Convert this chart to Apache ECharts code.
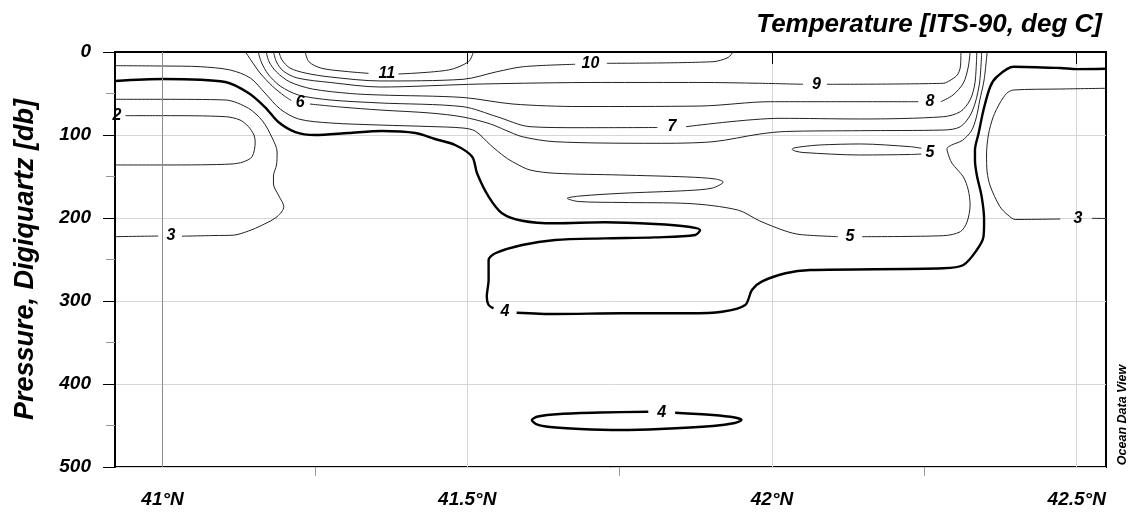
<!DOCTYPE html>
<html><head><meta charset="utf-8">
<script src="https://cdn.jsdelivr.net/npm/echarts@6/dist/echarts.min.js"></script>
<style>html,body{margin:0;padding:0;background:#fff}#c{width:1133px;height:512px}</style>
</head><body><div id="c"></div>
<script>
// ---- axis values ----
const latTicks = [41, 41.5, 42, 42.5];
const latMinorTicks = [41.25, 41.75, 42.25];
const latRange = [40.922, 42.548];
const pressureRange = [0, 500];
const stationLat = [41];

// ---- contour lines: [latitude °N, pressure db]; null = gap for a label ----
const c11 = [[41.234,0],[41.240,11.7],[41.261,19.6],[41.305,23.7],[41.338,25.7],null,[41.387,26.5],[41.469,21.7],[41.502,11.7],[41.510,0]];
const c10 = [[41.191,0],[41.196,9.6],[41.209,19.3],[41.234,25.3],[41.275,30.1],[41.357,34.9],[41.493,32.9],[41.549,23.7],[41.592,17.7],[41.677,14.8],null,[41.729,13.6],[41.903,11.7],[41.928,6.6],[41.936,0]];
const c9 = [[41.182,0],[41.187,12],[41.198,22.9],[41.221,31.3],[41.275,36.7],[41.357,42.2],[41.521,38.6],[41.718,36.7],[41.882,36.7],[41.980,37.7],[42.051,38.9],null,[42.090,38.9],[42.281,37.7],[42.292,34.3],[42.304,27.7],[42.309,18.1],[42.310,0]];
const c8 = [[41.170,0],[41.175,12],[41.187,24.1],[41.209,36.1],[41.246,44.6],[41.308,50],[41.357,51.8],[41.493,54.8],[41.575,62.7],[41.685,65.7],[41.882,65.1],[41.997,59.9],[42.240,59.9],null,[42.277,59.9],[42.297,51.8],[42.314,37.3],[42.322,18.1],[42.325,0]];
const c7 = [[41.157,0],[41.162,12],[41.173,26.5],[41.193,41],[41.223,51.8],[41.275,57.8],[41.357,61.4],[41.493,65.9],[41.549,78],[41.603,90],[41.685,91.2],[41.812,91],null,[41.859,90],[42.013,79.9],[42.145,80.7],[42.281,78],[42.309,71.9],[42.325,57.8],[42.333,37.3],[42.336,0]];
const c6 = [[41.136,0],[41.146,10.8],[41.160,25.3],[41.180,41],[41.200,53],[41.211,58.4],null,[41.242,62.7],[41.292,66.3],[41.357,69.9],[41.439,73.5],[41.493,78.3],[41.538,86.7],[41.562,94],[41.590,102],[41.644,108.1],[41.808,110],[41.903,108.1],[41.980,98.8],[42.022,95.8],[42.145,94.8],[42.281,94],[42.309,90],[42.328,72.3],[42.340,39.8],[42.344,0]];
const c5 = [[40.922,16.5],[41.001,16.9],[41.062,17.7],[41.111,21.7],[41.144,31.3],[41.168,49.4],[41.193,68.7],[41.223,80.7],[41.275,85.5],[41.357,88],[41.439,89.8],[41.493,91.6],[41.513,95.2],[41.538,112],[41.562,126.5],[41.579,134.1],[41.603,142.2],[41.644,146.1],[41.751,148.2],[41.862,150.6],[41.907,153],[41.920,156.6],[41.902,163.9],[41.862,166.9],[41.754,170.2],[41.685,173.5],[41.664,176.3],[41.682,180.1],[41.754,181.3],[41.862,182.5],[41.944,190.4],[41.980,203.6],[42.022,215.7],[42.046,219.9],[42.108,222.5],null,[42.148,222.5],[42.281,221.3],[42.309,216.5],[42.320,204.8],[42.325,184.3],[42.322,166.3],[42.314,150.6],[42.295,133.7],[42.288,120.5],[42.287,116.3],[42.295,112],[42.312,106.6],[42.327,95.2],[42.335,79.5],[42.341,57.8],[42.348,33.7],[42.353,0]];
const c5b = [[42.245,116],[42.227,114.1],[42.145,110.8],[42.079,112],[42.051,113.9],[42.036,115.7],[42.033,117.2],[42.038,119.3],[42.051,121.1],[42.145,124.1],[42.227,123.5],[42.245,122.9]];
const c4 = [[40.922,34.9],[41.001,32.5],[41.103,36.1],[41.141,49.4],[41.168,66.3],[41.190,84.3],[41.218,96.4],[41.250,100],[41.305,97.6],[41.360,95.2],[41.415,97.6],[41.447,104.8],[41.480,112],[41.508,126.1],[41.516,146.1],[41.535,174.3],[41.557,194.3],[41.590,203.3],[41.644,206.4],[41.726,205.2],[41.808,207.2],[41.863,210.5],[41.882,214.5],[41.874,220.5],[41.808,223.3],[41.726,224.5],[41.644,226.5],[41.590,232.5],[41.546,242.5],[41.535,250.6],[41.535,274.7],[41.532,294.8],[41.535,304.8],[41.543,308.8],null,[41.581,314.1],[41.644,315.7],[41.754,314.8],[41.863,314.8],[41.918,312.9],[41.956,304.8],[41.967,286.7],[41.983,276.7],[42.022,266.6],[42.063,262.7],[42.281,260.6],[42.314,256.6],[42.336,238.6],[42.347,222.5],[42.348,202.4],[42.344,174.3],[42.336,148.2],[42.333,130.1],[42.333,118.1],[42.339,98],[42.347,69.9],[42.358,41.8],[42.369,29.8],[42.396,17.7],[42.473,19.3],[42.500,20.6],[42.548,20.2]];
const c4b = [[41.841,434.6],[41.903,437.3],[41.939,440.4],[41.950,443.4],[41.939,447],[41.903,450.6],[41.816,454.2],[41.751,455.4],[41.685,454.2],[41.636,451.8],[41.613,448.2],[41.606,443.4],[41.616,439.2],[41.652,436.1],[41.718,434.3],[41.797,433.4]];
const c3a = [[40.922,222.5],[40.993,221.7],null,[41.032,221.9],[41.086,221.1],[41.116,220.7],[41.141,215.7],[41.164,208.4],[41.188,198.4],[41.199,186.4],[41.191,173.5],[41.182,159],[41.182,149.4],[41.187,136.1],[41.188,120.5],[41.180,103.6],[41.164,83.1],[41.141,67.8],[41.103,57.8],[41.001,57],[40.922,57]];
const c3b = [[42.548,43.7],[42.473,44.6],[42.396,45.8],[42.385,49.8],[42.374,61.4],[42.363,78],[42.355,100],[42.352,124.1],[42.353,144.6],[42.358,161.4],[42.374,186.4],[42.387,196.4],[42.399,201.8],[42.473,201.2],null,[42.525,200.4],[42.548,200.6]];
const c2 = [[40.939,76.7],[41.001,76.7],[41.103,77.9],[41.127,81.9],[41.141,90],[41.150,100],[41.152,108.4],[41.147,126.1],[41.132,132.5],[41.114,134.9],[41.062,135.9],[41.001,136.1],[40.922,136.1]];

// ---- contour labels: [latitude, pressure, text] ----
const contourLabels = [
  [41.368,25.9,'11'],[41.702,14.5,'10'],[42.073,39.2,'9'],[42.259,60.2,'8'],
  [41.836,90.4,'7'],[41.226,61.4,'6'],[42.128,222.9,'5'],[42.259,121.7,'5'],
  [41.562,313.3,'4'],[41.819,434.3,'4'],[41.014,221.3,'3'],[42.502,200.4,'3'],[40.925,76.5,'2']
];

const FONT = 'Liberation Sans, Arial, sans-serif';
const prep = a => a.map(p => p === null ? ['-','-'] : p);
const thin = [c11,c10,c9,c8,c7,c6,c5,c5b,c3a,c3b,c2];
const thick = [c4,c4b];

const series = [];
thin.forEach(d => series.push({type:'line', data:prep(d), showSymbol:false, symbol:'none', smooth:0.3,
  lineStyle:{color:'#222', width:1}, silent:true, z:3}));
thick.forEach(d => series.push({type:'line', data:prep(d), showSymbol:false, symbol:'none', smooth:0.3,
  lineStyle:{color:'#000', width:2.4}, silent:true, z:4}));
series.push({type:'scatter', data:contourLabels, symbolSize:0, itemStyle:{color:'#000', opacity:1}, z:5, silent:true,
  label:{show:true, position:'inside', formatter:p=>p.value[2], color:'#000', opacity:1, textBorderWidth:0,
    fontFamily:FONT, fontWeight:'bold', fontStyle:'italic', fontSize:16}});
series.push({type:'line', data:[], markLine:{silent:true, symbol:'none', label:{show:false},
  lineStyle:{color:'#8a8a8a', width:1, type:'solid'}, data: stationLat.map(v=>({xAxis:v}))}, z:1});

const chart = echarts.init(document.getElementById('c'), null, {renderer:'canvas'});
chart.setOption({
  animation:false,
  backgroundColor:'#fff',
  title:{text:'Temperature [ITS-90, deg C]', right:26, top:7,
    textStyle:{fontFamily:FONT, fontSize:26, fontWeight:'bold', fontStyle:'italic', color:'#000'}},
  grid:{left:115, right:27, top:52, bottom:45, show:true, borderColor:'#000', borderWidth:2, backgroundColor:'transparent'},
  xAxis:[{
    type:'value', min:latRange[0], max:latRange[1], position:'bottom',
    axisLine:{show:true, lineStyle:{color:'#000', width:2}},
    axisTick:{show:true, customValues:latTicks, length:12, lineStyle:{color:'#000', width:1}},
    axisLabel:{customValues:latTicks, formatter:v=>v+'°N', margin:23, color:'#000', fontFamily:FONT,
      fontWeight:'bold', fontStyle:'italic', fontSize:19},
    splitLine:{show:true, lineStyle:{color:'#d6d6d6', width:1}}
  },{
    type:'value', min:latRange[0], max:latRange[1], position:'bottom', gridIndex:0,
    axisLine:{show:false},
    axisTick:{show:true, customValues:latMinorTicks, length:9, lineStyle:{color:'#999', width:1}},
    axisLabel:{show:false}, splitLine:{show:false}
  }],
  yAxis:{
    type:'value', inverse:true, min:pressureRange[0], max:pressureRange[1], interval:100,
    name:'Pressure, Digiquartz [db]', nameLocation:'middle', nameGap:76,
    nameTextStyle:{fontFamily:FONT, fontSize:27, fontWeight:'bold', fontStyle:'italic', color:'#000'},
    axisLine:{show:true, lineStyle:{color:'#000', width:2}},
    axisTick:{show:true, length:12, lineStyle:{color:'#000', width:1}},
    minorTick:{show:true, splitNumber:2, length:9, lineStyle:{color:'#999', width:1}},
    axisLabel:{margin:24, color:'#000', fontFamily:FONT, fontWeight:'bold', fontStyle:'italic', fontSize:19},
    splitLine:{show:true, lineStyle:{color:'#d6d6d6', width:1}}
  },
  graphic:[{type:'text', x:1123, y:415, rotation:Math.PI/2,
    style:{text:'Ocean Data View', fontFamily:FONT, fontSize:12.5, fontWeight:'bold', fontStyle:'italic',
      fill:'#000', align:'center', verticalAlign:'middle'}}],
  series: series
});
</script></body></html>
